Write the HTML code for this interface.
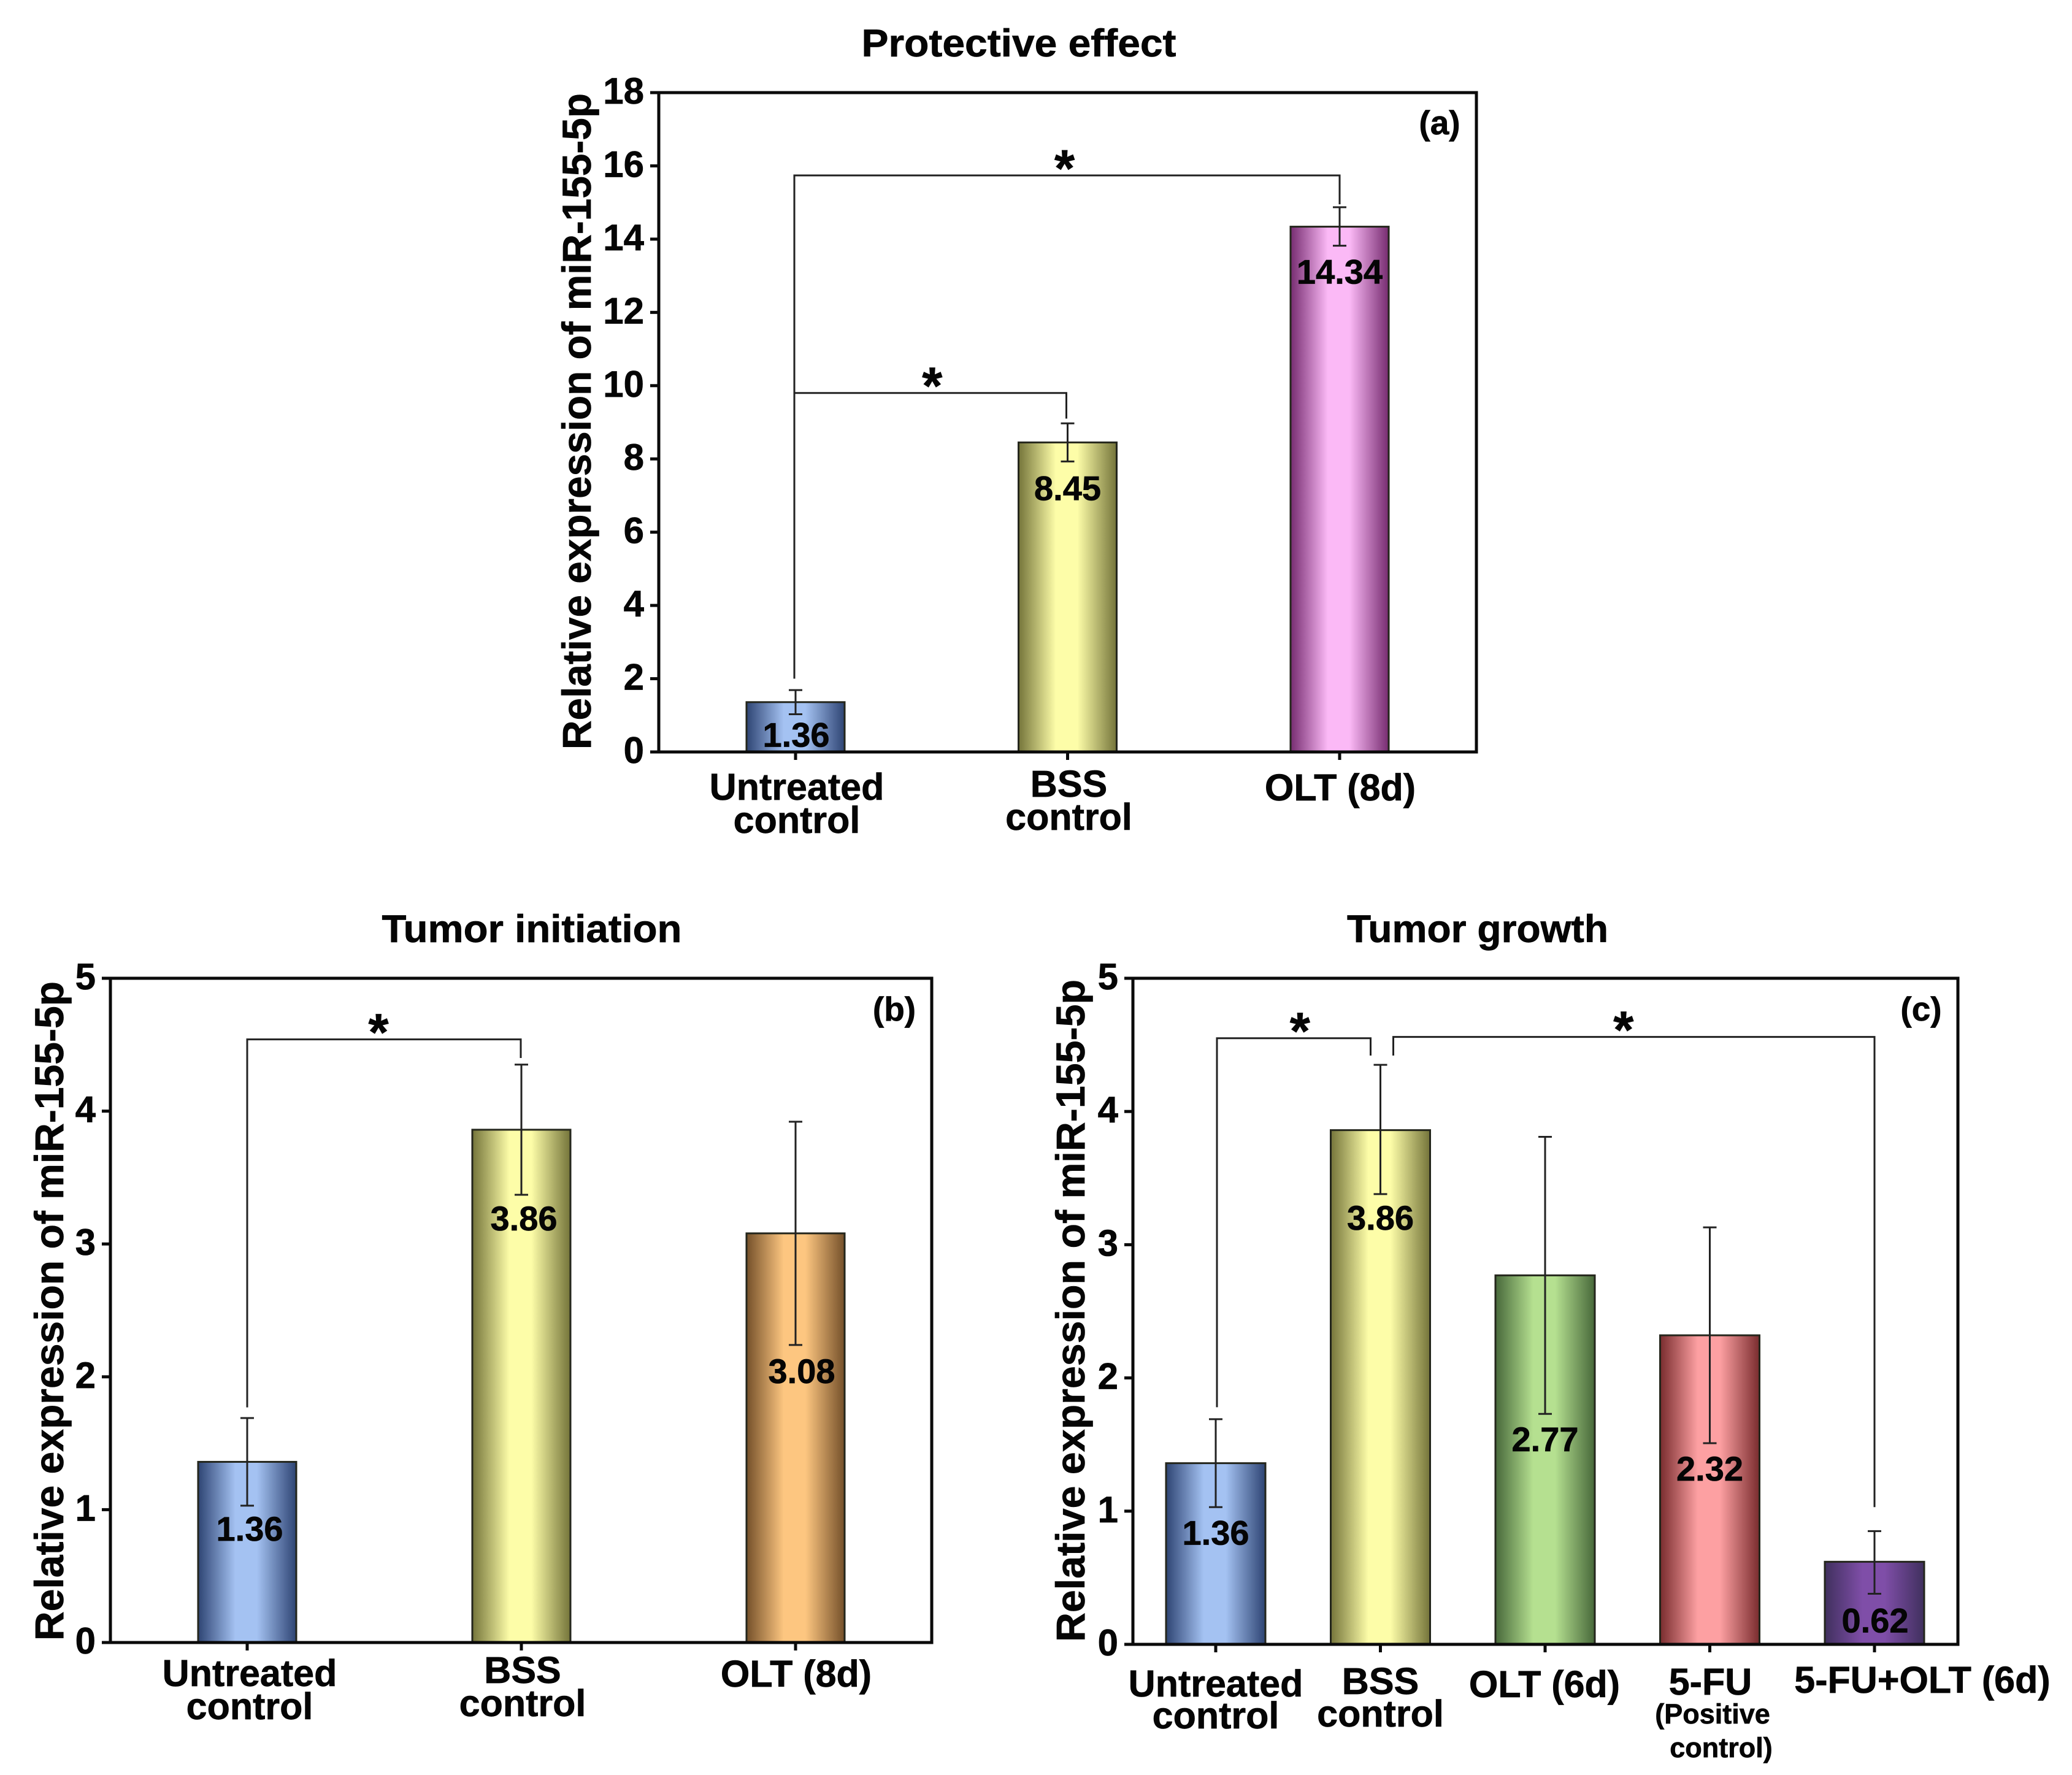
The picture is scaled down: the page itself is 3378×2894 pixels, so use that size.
<!DOCTYPE html>
<html lang="en">
<head>
<meta charset="utf-8">
<title>Relative expression of miR-155-5p</title>
<style>
html,body{margin:0;padding:0;background:#fff}
svg{display:block}
text{font-family:"Liberation Sans",sans-serif;font-weight:bold;fill:#050505;stroke:#050505;stroke-width:0.7px}
</style>
</head>
<body>
<svg id="figure" xmlns="http://www.w3.org/2000/svg" width="3378" height="2894" viewBox="0 0 3378 2894">
  <rect width="3378" height="2894" fill="#fff"/>
  <defs id="gradients"></defs>

  <text x="1661" y="92" text-anchor="middle" font-size="63" textLength="513" lengthAdjust="spacingAndGlyphs">Protective effect</text>
  <text x="867" y="1536" text-anchor="middle" font-size="63" textLength="489" lengthAdjust="spacingAndGlyphs">Tumor initiation</text>
  <text x="2409" y="1536" text-anchor="middle" font-size="63" textLength="426" lengthAdjust="spacingAndGlyphs">Tumor growth</text>

  <text transform="translate(963,1222) rotate(-90)" font-size="66" textLength="1070" lengthAdjust="spacingAndGlyphs">Relative expression of miR-155-5p</text>
  <text transform="translate(103,2675) rotate(-90)" font-size="66" textLength="1075" lengthAdjust="spacingAndGlyphs">Relative expression of miR-155-5p</text>
  <text transform="translate(1768,2677) rotate(-90)" font-size="66" textLength="1080" lengthAdjust="spacingAndGlyphs">Relative expression of miR-155-5p</text>

  <text x="2347" y="219" text-anchor="middle" font-size="55">(a)</text>
  <text x="1458" y="1664" text-anchor="middle" font-size="55">(b)</text>
  <text x="3132" y="1664" text-anchor="middle" font-size="55">(c)</text>

  <text x="2792" y="2810" text-anchor="middle" font-size="45">(Positive</text>
  <text x="2806" y="2865" text-anchor="middle" font-size="45">control)</text>

  <g id="plots"></g>
</svg>

<script>
/* Panel (a): Protective effect */
const chartACategories = [["Untreated", "control"], ["BSS", "control"], ["OLT (8d)"]];
const chartAValues = [1.36, 8.45, 14.34];
const chartAUpper = [1.69, 8.97, 14.87];
const chartALower = [1.03, 7.93, 13.82];
const chartATicks = [0, 2, 4, 6, 8, 10, 12, 14, 16, 18];
const chartABracketLevels = [15.74, 9.8];
const chartABracketDrops = [[2.0, 14.95], [9.8, 9.1]];

/* Panel (b): Tumor initiation */
const chartBCategories = [["Untreated", "control"], ["BSS", "control"], ["OLT (8d)"]];
const chartBValues = [1.36, 3.86, 3.08];
const chartBUpper = [1.69, 4.35, 3.92];
const chartBLower = [1.03, 3.37, 2.24];
const chartBTicks = [0, 1, 2, 3, 4, 5];
const chartBBracketLevels = [4.54];
const chartBBracketDrops = [[1.77, 4.4]];

/* Panel (c): Tumor growth */
const chartCCategories = [["Untreated", "control"], ["BSS", "control"], ["OLT (6d)"], ["5-FU"], ["5-FU+OLT (6d)"]];
const chartCValues = [1.36, 3.86, 2.77, 2.32, 0.62];
const chartCUpper = [1.69, 4.35, 3.81, 3.13, 0.85];
const chartCLower = [1.03, 3.38, 1.73, 1.51, 0.38];
const chartCTicks = [0, 1, 2, 3, 4, 5];
const chartCBracketLevels = [4.55, 4.56];
const chartCBracketDrops = [[1.78, 4.42], [4.42, 1.03]];

const SVGNS = 'http://www.w3.org/2000/svg';
const plots = document.getElementById('plots');
const gradients = document.getElementById('gradients');

function make(tag, attrs, parent) {
  const el = document.createElementNS(SVGNS, tag);
  for (const k in attrs) el.setAttribute(k, attrs[k]);
  (parent || plots).appendChild(el);
  return el;
}

function gradient(id, edge, mid) {
  const g = make('linearGradient', {id: id, x1: 0, x2: 1, y1: 0, y2: 0}, gradients);
  [[0, edge], [0.38, mid], [0.6, mid], [1, edge]].forEach(function (s) {
    make('stop', {offset: s[0], 'stop-color': s[1]}, g);
  });
}
gradient('grad-blue', '#2e4473', '#a4c2f2');
gradient('grad-olive', '#74743a', '#fdfda8');
gradient('grad-pink', '#762c70', '#fbb9f6');
gradient('grad-orange', '#74502a', '#fdc680');
gradient('grad-green', '#47683a', '#b5e090');
gradient('grad-red', '#792c2e', '#fda0a2');
gradient('grad-violet', '#40305e', '#7f4ea8');

function drawPanel(p) {
  const group = make('g', {});
  
  

  const yMax = p.ticks[p.ticks.length - 1];
  const yOf = function (v) { return p.bottom - (v / yMax) * (p.bottom - p.top); };
  const xOf = function (i) { return p.x0 + i * p.step; };

  /* bars */
  p.values.forEach(function (v, i) {
    const bar = make('rect', {
      x: xOf(i) - p.barW / 2, y: yOf(v), width: p.barW, height: p.bottom - yOf(v),
      fill: 'url(#' + p.fills[i] + ')', stroke: '#24261c', 'stroke-width': 3
    }, group);
    
    
  });

  /* plot frame */
  const frame = make('rect', {
    x: p.left, y: p.top, width: p.right - p.left, height: p.bottom - p.top,
    fill: 'none', stroke: '#0a0a0a', 'stroke-width': 5
  }, group);
  
  

  /* y ticks */
  p.ticks.forEach(function (t) {
    const mark = make('line', {
      x1: p.left - 14, x2: p.left, y1: yOf(t), y2: yOf(t), stroke: '#0a0a0a', 'stroke-width': 5
    }, group);
    
    
    const lab = make('text', {
      x: p.left - 24, y: yOf(t) + 18, 'text-anchor': 'end', 'font-size': 60
    }, group);
    
    
    lab.textContent = t;
  });

  /* x ticks + category labels */
  p.categories.forEach(function (lines, i) {
    const mark = make('line', {
      x1: xOf(i), x2: xOf(i), y1: p.bottom, y2: p.bottom + 13, stroke: '#0a0a0a', 'stroke-width': 5
    }, group);
    
    
    lines.forEach(function (line, j) {
      const lab = make('text', {
        x: xOf(i) + p.catDx[i], y: p.bottom + p.catDy[i][j], 'text-anchor': 'middle', 'font-size': 61
      }, group);
      
      
      lab.textContent = line;
    });
  });

  /* error bars */
  p.values.forEach(function (v, i) {
    const cx = xOf(i);
    const err = make('path', {
      d: 'M' + cx + ' ' + yOf(p.upper[i]) + 'V' + yOf(p.lower[i]) +
         'M' + (cx - 11) + ' ' + yOf(p.upper[i]) + 'H' + (cx + 11) +
         'M' + (cx - 11) + ' ' + yOf(p.lower[i]) + 'H' + (cx + 11),
      fill: 'none', stroke: '#222', 'stroke-width': 3
    }, group);
    
    
  });

  /* printed values, sitting under each lower whisker */
  p.values.forEach(function (v, i) {
    const lab = make('text', {
      x: xOf(i) + p.valDx[i], y: yOf(p.lower[i]) + 63 + p.valDy[i],
      'text-anchor': 'middle', 'font-size': 56
    }, group);
    
    
    lab.textContent = v.toFixed(2);
  });

  /* significance brackets */
  p.bracketLevels.forEach(function (level, i) {
    const b = p.brackets[i];
    const xa = xOf(b.from) + b.dxa, xb = xOf(b.to) + b.dxb;
    const br = make('path', {
      d: 'M' + xa + ' ' + yOf(p.bracketDrops[i][0]) + 'V' + yOf(level) + 'H' + xb + 'V' + yOf(p.bracketDrops[i][1]),
      fill: 'none', stroke: '#222', 'stroke-width': 3
    }, group);
    
    
    const star = make('text', {
      x: (xa + xb) / 2 + b.starDx, y: yOf(level) + 18, 'text-anchor': 'middle', 'font-size': 85
    }, group);
    
    
    star.textContent = '*';
  });
}

drawPanel({
  id: 'chart-a', left: 1074, right: 2407, top: 151, bottom: 1226,
  x0: 1297, step: 443.5, barW: 160,
  ticks: chartATicks, categories: chartACategories, values: chartAValues,
  upper: chartAUpper, lower: chartALower,
  bracketLevels: chartABracketLevels, bracketDrops: chartABracketDrops,
  brackets: [
    {from: 0, to: 2, dxa: -2, dxb: 0, starDx: -4},
    {from: 0, to: 1, dxa: -2, dxb: -2, starDx: 3}
  ],
  fills: ['grad-blue', 'grad-olive', 'grad-pink'],
  catDx: [2, 2, 1], catDy: [[78, 132], [73, 127], [79]],
  valDx: [1, 0, 0], valDy: [-10, 0, -1]
});

drawPanel({
  id: 'chart-b', left: 180, right: 1519, top: 1595, bottom: 2678,
  x0: 403, step: 447, barW: 160,
  ticks: chartBTicks, categories: chartBCategories, values: chartBValues,
  upper: chartBUpper, lower: chartBLower,
  bracketLevels: chartBBracketLevels, bracketDrops: chartBBracketDrops,
  brackets: [{from: 0, to: 1, dxa: 0, dxb: -1, starDx: -9}],
  fills: ['grad-blue', 'grad-olive', 'grad-orange'],
  catDx: [4, 2, 1], catDy: [[71, 125], [66, 120], [72]],
  valDx: [4, 4, 10], valDy: [-6, -5, -1]
});

drawPanel({
  id: 'chart-c', left: 1847, right: 3192, top: 1595, bottom: 2681,
  x0: 1982, step: 268.5, barW: 162,
  ticks: chartCTicks, categories: chartCCategories, values: chartCValues,
  upper: chartCUpper, lower: chartCLower,
  bracketLevels: chartCBracketLevels, bracketDrops: chartCBracketDrops,
  brackets: [
    {from: 0, to: 1, dxa: 2, dxb: -16, starDx: 10},
    {from: 1, to: 4, dxa: 21, dxb: 0, starDx: -17}
  ],
  fills: ['grad-blue', 'grad-olive', 'grad-green', 'grad-red', 'grad-violet'],
  catDx: [0, 0, -1, 1, 78], catDy: [[85, 137], [81, 134], [86], [82], [79]],
  valDx: [0, 0, 0, 0, 1], valDy: [-2, -5, -2, -2, 0]
});
</script>
</body>
</html>
